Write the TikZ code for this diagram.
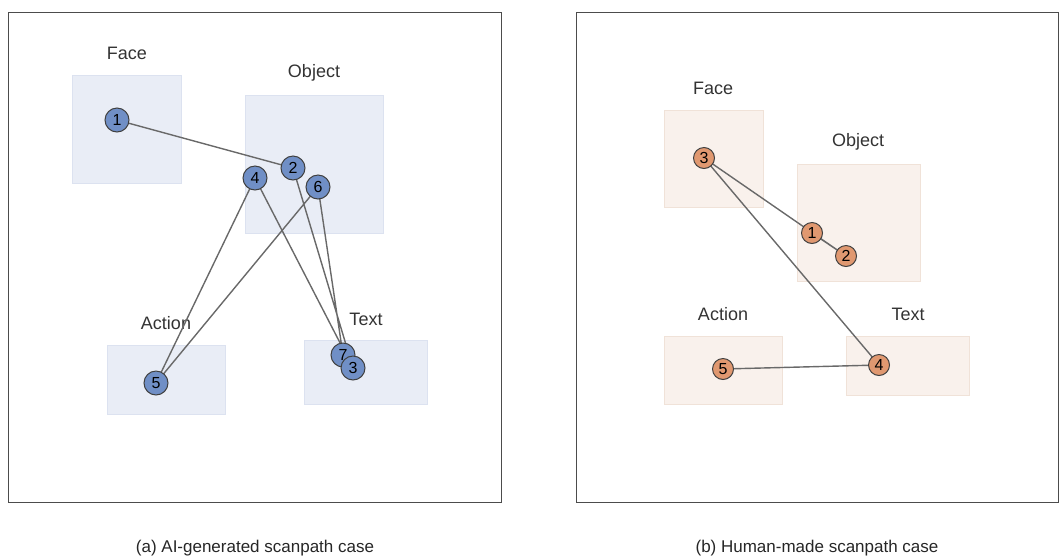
\documentclass[tikz,border=0pt]{standalone}
\usepackage{fontspec}
\setmainfont{Liberation Sans}
\definecolor{aoiblue}{RGB}{233,237,246}
\definecolor{aoiblueedge}{RGB}{220,226,240}
\definecolor{fixblue}{RGB}{112,143,198}
\definecolor{aoiorange}{RGB}{249,241,236}
\definecolor{aoiorangeedge}{RGB}{240,226,216}
\definecolor{fixorange}{RGB}{224,152,112}
\definecolor{pathgray}{RGB}{105,105,105}
\tikzset{
  panel/.style={draw=black!70, line width=0.9pt},
  aoilabel/.style={font=\fontsize{18}{20}\selectfont, text=black!80},
  fixa/.style={circle, draw=black!75, fill=fixblue, minimum size=24pt, inner sep=0pt, line width=1pt, font=\fontsize{16}{17}\selectfont},
  fixb/.style={circle, draw=black!75, fill=fixorange, minimum size=21pt, inner sep=0pt, line width=1pt, font=\fontsize{16}{17}\selectfont},
  scan/.style={draw=pathgray, line width=1.4pt},
  caption/.style={font=\fontsize{17}{19}\selectfont, text=black!85}
}
\begin{document}
\begin{tikzpicture}[x=1pt, y=-1pt] % one unit = one pixel of the reference
  \useasboundingbox (0,0) rectangle (1059,558);
  % (a) AI-generated panel
  \draw[panel] (8,12) rectangle (501,502);
  \filldraw[fill=aoiblue, draw=aoiblueedge] (72,75) rectangle (181,183);
  \filldraw[fill=aoiblue, draw=aoiblueedge] (245,95) rectangle (383,233);
  \filldraw[fill=aoiblue, draw=aoiblueedge] (107,345) rectangle (225,414);
  \filldraw[fill=aoiblue, draw=aoiblueedge] (304,340) rectangle (427,404);
  \node[aoilabel] (faceA) at (127,53) {Face};
  \node[aoilabel] (objectA) at (314,73) {Object};
  \node[aoilabel] (actionA) at (166,323) {Action};
  \node[aoilabel] (textA) at (366,319) {Text};
  \coordinate (a1) at (117,120);
  \coordinate (a2) at (293,168);
  \coordinate (a3) at (353,368);
  \coordinate (a4) at (255,178);
  \coordinate (a5) at (156,383);
  \coordinate (a6) at (318,187);
  \coordinate (a7) at (343,355);
  % scanpath (a)
  \draw[scan] (a1) -- (a2) -- (a3) -- (a4) -- (a5) -- (a6) -- (a7);
  \node[fixa] (fa1) at (a1) {1};
  \node[fixa] (fa2) at (a2) {2};
  \node[fixa] (fa4) at (a4) {4};
  \node[fixa] (fa6) at (a6) {6};
  \node[fixa] (fa5) at (a5) {5};
  \node[fixa] (fa7) at (a7) {7};
  \node[fixa] (fa3) at (a3) {3};
  % (b) Human-made panel
  \draw[panel] (576,12) rectangle (1058,502);
  \filldraw[fill=aoiorange, draw=aoiorangeedge] (664,110) rectangle (763,207);
  \filldraw[fill=aoiorange, draw=aoiorangeedge] (797,164) rectangle (920,281);
  \filldraw[fill=aoiorange, draw=aoiorangeedge] (664,336) rectangle (782,404);
  \filldraw[fill=aoiorange, draw=aoiorangeedge] (846,336) rectangle (969,395);
  \node[aoilabel] (faceB) at (713,88) {Face};
  \node[aoilabel] (objectB) at (858,142) {Object};
  \node[aoilabel] (actionB) at (723,314) {Action};
  \node[aoilabel] (textB) at (908,314) {Text};
  \coordinate (b1) at (812,233);
  \coordinate (b2) at (846,256);
  \coordinate (b3) at (704,158);
  \coordinate (b4) at (879,365);
  \coordinate (b5) at (723,369);
  % scanpath (b)
  \draw[scan] (b1) -- (b2) -- (b3) -- (b4) -- (b5);
  \node[fixb] (fb1) at (b1) {1};
  \node[fixb] (fb2) at (b2) {2};
  \node[fixb] (fb3) at (b3) {3};
  \node[fixb] (fb4) at (b4) {4};
  \node[fixb] (fb5) at (b5) {5};
  % captions
  \node[caption] (capA) at (255,548) {(a) AI-generated scanpath case};
  \node[caption] (capB) at (817,548) {(b) Human-made scanpath case};
\end{tikzpicture}
\end{document}
